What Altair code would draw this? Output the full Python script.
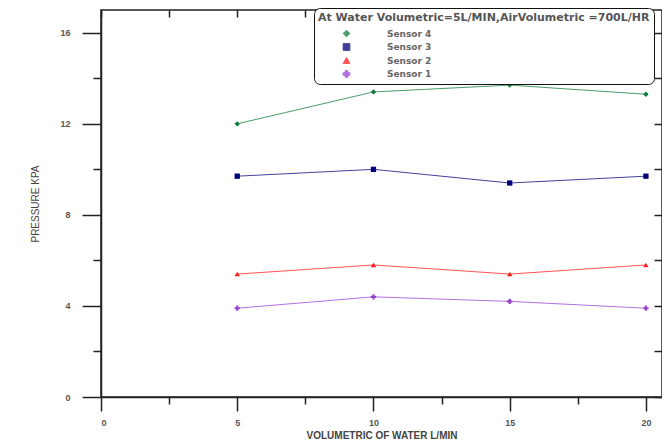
import altair as alt
import pandas as pd

# ---- data ----
flow = [5, 10, 15, 20]
sensor4 = [12.0, 13.4, 13.7, 13.3]
sensor3 = [9.7, 10.0, 9.4, 9.7]
sensor2 = [5.4, 5.8, 5.4, 5.8]
sensor1 = [3.9, 4.4, 4.2, 3.9]

series_names = ["Sensor 4", "Sensor 3", "Sensor 2", "Sensor 1"]
series_colors = ["#0d7a3a", "#00007a", "#ff1a1a", "#9a3fd6"]
series_shapes = ["diamond", "square", "triangle-up", "cross"]

x_ticks = [0, 2.5, 5, 7.5, 10, 12.5, 15, 17.5, 20]
y_ticks = [0, 2, 4, 6, 8, 10, 12, 14, 16]
legend_title = "At Water Volumetric=5L/MIN,AirVolumetric =700L/HR"
x_title = "VOLUMETRIC OF WATER L/MIN"
y_title = "PRESSURE KPA"

rows = []
for name, vals in zip(series_names, [sensor4, sensor3, sensor2, sensor1]):
    for xv, yv in zip(flow, vals):
        rows.append({"flow": xv, "pressure": yv, "series": name})
df = pd.DataFrame(rows)

FONT = "Liberation Sans"
LFONT = "DejaVu Sans"
TXT = "#555555"
AX = "#222222"

x_scale = alt.Scale(domain=[0, 20.59], nice=False, zero=False)
y_scale = alt.Scale(domain=[0, 17], nice=False)

color_enc = alt.Color(
    "series:N",
    scale=alt.Scale(domain=series_names, range=series_colors),
    sort=series_names,
    legend=alt.Legend(
        title=legend_title,
        orient="none",
        legendX=213,
        legendY=-2,
        strokeColor="#111111",
        cornerRadius=6,
        fillColor="white",
        padding=4,
        titleFont=LFONT,
        titleFontSize=11,
        titleFontWeight="bold",
        titleColor="#555555",
        titleLimit=500,
        titlePadding=6,
        labelFont=LFONT,
        labelFontSize=9,
        labelFontWeight="bold",
        labelColor="#666666",
        symbolSize=45,
        symbolOffset=24,
        labelOffset=36,
        rowPadding=2.5,
        symbolStrokeWidth=1,
    ),
)
shape_enc = alt.Shape(
    "series:N",
    scale=alt.Scale(domain=series_names, range=series_shapes),
    sort=series_names,
)

base = alt.Chart(df)

lines = base.mark_line(strokeWidth=1, opacity=0.75).encode(
    x=alt.X(
        "flow:Q",
        scale=x_scale,
        title=x_title,
        axis=alt.Axis(
            values=x_ticks,
            labelExpr="datum.value % 5 === 0 ? datum.label : ''",
            tickSize=alt.condition("datum.value % 5 === 0", alt.value(14), alt.value(7)),
            tickColor=AX,
            tickWidth=1.5,
            domainColor=AX,
            domainWidth=1.5,
            grid=False,
            labelFont=FONT,
            labelFontSize=9,
            labelFontWeight="bold",
            labelColor=TXT,
            labelPadding=7,
            titleFont=FONT,
            titleFontSize=10,
            titleFontWeight="bold",
            titleColor="#444444",
            titlePadding=3,
        ),
    ),
    y=alt.Y(
        "pressure:Q",
        scale=y_scale,
        title=y_title,
        axis=alt.Axis(
            values=y_ticks,
            labelExpr="datum.value % 4 === 0 ? datum.label : ''",
            tickSize=alt.condition("datum.value % 4 === 0", alt.value(19), alt.value(8)),
            tickColor=AX,
            tickWidth=1.5,
            domainColor=AX,
            domainWidth=1.5,
            grid=False,
            labelFont=FONT,
            labelFontSize=9,
            labelFontWeight="bold",
            labelColor=TXT,
            labelPadding=12,
            titleFont=FONT,
            titleFontSize=10,
            titleFontWeight="normal",
            titleColor="#444444",
            titlePadding=19,
        ),
    ),
    color=color_enc,
)

points = base.mark_point(filled=True, size=28, opacity=1).encode(
    x=alt.X(
        "flow:Q",
        scale=x_scale,
        axis=alt.Axis(
            orient="top",
            values=x_ticks,
            labels=False,
            domain=False,
            tickSize=7,
            offset=-7,
            tickColor=AX,
            tickWidth=1.5,
            grid=False,
            title=None,
        ),
    ),
    y=alt.Y(
        "pressure:Q",
        scale=y_scale,
        axis=alt.Axis(
            orient="right",
            values=y_ticks,
            labels=False,
            domain=False,
            tickSize=8,
            offset=-8,
            tickColor=AX,
            tickWidth=1.5,
            grid=False,
            title=None,
        ),
    ),
    color=color_enc,
    shape=shape_enc,
)

chart = (
    alt.layer(lines, points)
    .resolve_axis(x="independent", y="independent")
    .resolve_scale(x="shared", y="shared")
    .properties(
        width=561,
        height=387,
        autosize=alt.AutoSizeParams(type="none"),
        padding={"left": 93, "top": 2, "right": 0, "bottom": 43},
        background="white",
    )
    .configure_view(stroke=AX, strokeWidth=1.5)
)

chart.save("out.html", embed_options={"renderer": "svg", "actions": False})
